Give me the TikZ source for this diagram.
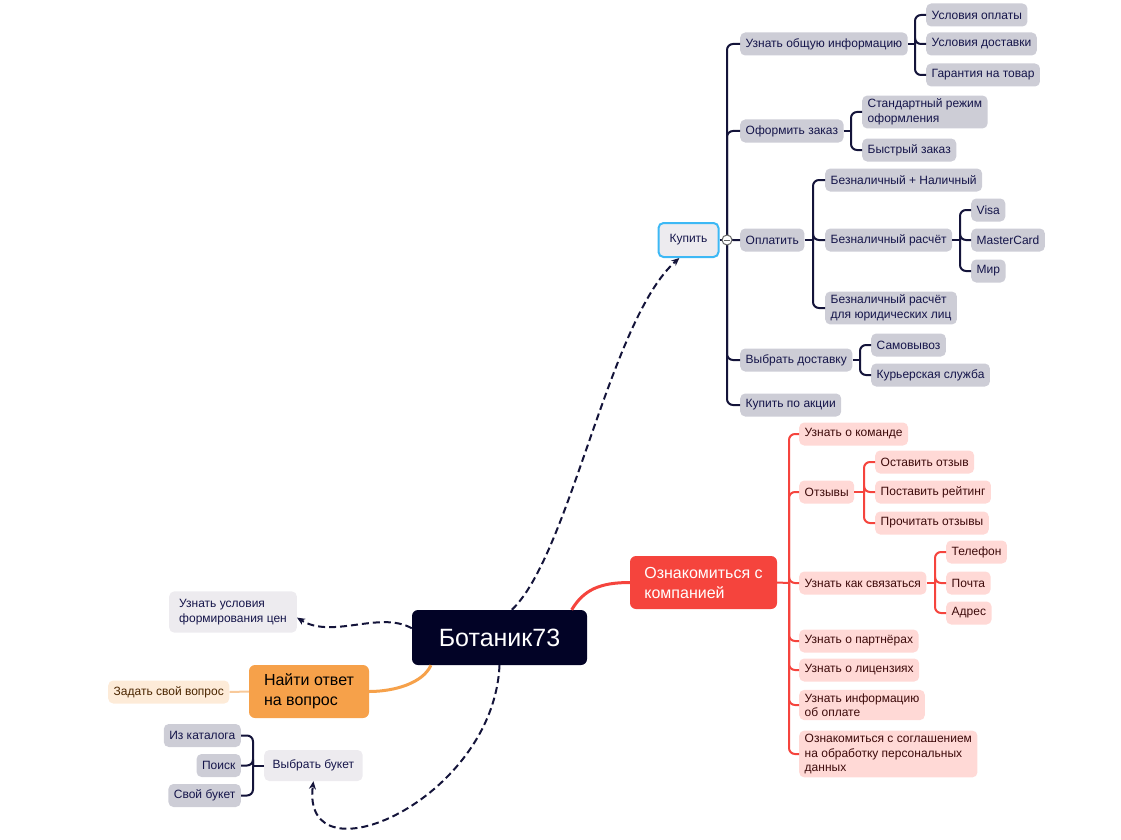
\documentclass[tikz,border=0pt]{standalone}
\usepackage{fontspec}
\setmainfont{Liberation Sans}
\usetikzlibrary{arrows.meta,positioning}
\definecolor{rootfill}{HTML}{020326}
\definecolor{mainred}{HTML}{F5443D}
\definecolor{mainorange}{HTML}{F6A14A}
\definecolor{askfill}{HTML}{FDEBD8}
\definecolor{asktext}{HTML}{4A2500}
\definecolor{asklink}{HTML}{F8C99A}
\definecolor{grayfill}{HTML}{CDCDD6}
\definecolor{lightfill}{HTML}{EDEBEF}
\definecolor{pinkfill}{HTML}{FFD9D6}
\definecolor{redtext}{HTML}{3D0A0A}
\definecolor{navytext}{HTML}{15154A}
\definecolor{linenavy}{HTML}{14143A}
\definecolor{buyborder}{HTML}{3DB8F5}
\begin{document}
\begin{tikzpicture}[x=1pt,y=-1pt,
	leaf/.style={anchor=west, align=left, rounded corners=5pt, inner xsep=5.5pt, inner ysep=3.5pt, minimum height=23pt, font=\fontsize{12}{14.5}\selectfont},
	grayleaf/.style={leaf, fill=grayfill, text=navytext},
	pinkleaf/.style={leaf, fill=pinkfill, text=redtext},
	lightleaf/.style={align=left, rounded corners=5pt, fill=lightfill, text=navytext, font=\fontsize{12}{14.5}\selectfont},
	mainbox/.style={align=left, rounded corners=6pt, minimum height=53pt, font=\fontsize{16}{20}\selectfont},
	branch/.style={line width=2pt, draw=linenavy, rounded corners=6pt},
	redbranch/.style={line width=2pt, draw=mainred, rounded corners=6pt},
	link/.style={draw=linenavy, line width=2pt, dash pattern=on 7pt off 4pt, -{Stealth[length=8pt,width=7pt]}}]
	\useasboundingbox (0,0) rectangle (1121,840);
	
	% centre
	\node[rounded corners=6pt, fill=rootfill, text=white, minimum width=175pt, minimum height=55pt, font=\fontsize{25}{30}\selectfont] (root) at (499.5,637.5) {Ботаник73};
	\node[mainbox, fill=mainred, text=white, minimum width=147pt] (about) at (703.5,582.5) {Ознакомиться с\\компанией};
	\node[mainbox, fill=mainorange, text=black, minimum width=120pt] (answer) at (309,691.5) {Найти ответ\\на вопрос};
	\node[leaf, fill=askfill, text=asktext] (ask) at (108,692) {Задать свой вопрос};
	\node[lightleaf, anchor=west, inner xsep=10pt, inner ysep=8pt] (prices) at (169,612) {Узнать условия\\формирования цен};
	\node[lightleaf, anchor=west, inner xsep=8.5pt, minimum height=31pt] (bouquet) at (264,765.5) {Выбрать букет};
	\node[lightleaf, draw=buyborder, line width=2pt, minimum width=60pt, minimum height=34pt] (buy) at (688.5,240) {Купить};
	
	\draw[line width=3pt, mainred] (root.21) .. controls +(12,-20) and +(-30,0) .. (about.west);
	\draw[line width=3pt, mainorange] (root.-158) .. controls +(-8,18) and +(25,0) .. (answer.east);
	\draw[line width=2pt, asklink] (answer.west) -- (ask.east);
	
	\draw[link] (root.66) .. controls +(58,-55) and +(-70,62) .. (buy.-117);
	\draw[link] (root.174) .. controls +(-32,-18) and +(35,22) .. (prices.-5);
	\draw[link] (root.south) .. controls +(-6,135) and +(-13,103) .. (bouquet.south);
	
	% Выбрать букет
	\node[grayleaf, anchor=east] (catalog) at (241,735.5) {Из каталога};
	\node[grayleaf, anchor=east] (search) at (241,765.5) {Поиск};
	\node[grayleaf, anchor=east] (own) at (241,795.5) {Свой букет};
	\coordinate (bouquetj) at (253,765.5);
	\draw[branch] (bouquet.west) -- (bouquetj);
	\foreach \n in {catalog,search,own}
		\draw[branch] (bouquetj) |- (\n.east);
	
	% Купить
	\node[grayleaf] (info) at (740,44) {Узнать общую информацию};
	\node[grayleaf] (payterms) at (926,15) {Условия оплаты};
	\node[grayleaf] (delterms) at (926,44) {Условия доставки};
	\node[grayleaf] (warranty) at (926,75) {Гарантия на товар};
	\node[grayleaf] (order) at (740,131) {Оформить заказ};
	\node[grayleaf] (standard) at (862,112) {Стандартный режим\\оформления};
	\node[grayleaf] (quick) at (862,150) {Быстрый заказ};
	\node[grayleaf] (pay) at (740,240) {Оплатить};
	\node[grayleaf] (mixed) at (825,180) {Безналичный + Наличный};
	\node[grayleaf] (cashless) at (825,240) {Безналичный расчёт};
	\node[grayleaf] (legal) at (825,308) {Безналичный расчёт\\для юридических лиц};
	\node[grayleaf] (visa) at (971,210) {Visa};
	\node[grayleaf] (mc) at (971,240) {MasterCard};
	\node[grayleaf] (mir) at (971,271) {Мир};
	\node[grayleaf] (delivery) at (740,360) {Выбрать доставку};
	\node[grayleaf] (pickup) at (871,345) {Самовывоз};
	\node[grayleaf] (courier) at (871,375) {Курьерская служба};
	\node[grayleaf] (promo) at (740,405) {Купить по акции};
	
	\coordinate (buyj) at (727,240);
	\coordinate (infoj) at (915,44);
	\coordinate (orderj) at (851,131);
	\coordinate (payj) at (813,240);
	\coordinate (cashlessj) at (960,240);
	\coordinate (deliveryj) at (860,360);
	
	\draw[branch] (buy.east) -- (buyj);
	\foreach \n in {info,order,pay,delivery,promo}
		\draw[branch] (buyj) |- (\n.west);
	\draw[branch] (info.east) -- (infoj);
	\foreach \n in {payterms,delterms,warranty}
		\draw[branch] (infoj) |- (\n.west);
	\draw[branch] (order.east) -- (orderj);
	\foreach \n in {standard,quick}
		\draw[branch] (orderj) |- (\n.west);
	\draw[branch] (pay.east) -- (payj);
	\foreach \n in {mixed,cashless,legal}
		\draw[branch] (payj) |- (\n.west);
	\draw[branch] (cashless.east) -- (cashlessj);
	\foreach \n in {visa,mc,mir}
		\draw[branch] (cashlessj) |- (\n.west);
	\draw[branch] (delivery.east) -- (deliveryj);
	\foreach \n in {pickup,courier}
		\draw[branch] (deliveryj) |- (\n.west);
	\node[circle, draw=gray!80!black, fill=white, line width=1pt, minimum size=10pt, inner sep=0pt] (fold) at (buyj) {};
	\draw[line width=1pt, gray!80!black] ([xshift=-3pt]fold.center) -- ([xshift=3pt]fold.center);
	
	% Ознакомиться с компанией
	\node[pinkleaf] (team) at (799,434) {Узнать о команде};
	\node[pinkleaf] (reviews) at (799,492) {Отзывы};
	\node[pinkleaf] (leave) at (875,462) {Оставить отзыв};
	\node[pinkleaf] (rate) at (875,492) {Поставить рейтинг};
	\node[pinkleaf] (read) at (875,523) {Прочитать отзывы};
	\node[pinkleaf] (contact) at (799,583) {Узнать как связаться};
	\node[pinkleaf] (phone) at (946,552) {Телефон};
	\node[pinkleaf] (mail) at (946,583) {Почта};
	\node[pinkleaf] (addr) at (946,613) {Адрес};
	\node[pinkleaf] (partners) at (799,641) {Узнать о партнёрах};
	\node[pinkleaf] (licences) at (799,670) {Узнать о лицензиях};
	\node[pinkleaf] (payinfo) at (799,705) {Узнать информацию\\об оплате};
	\node[pinkleaf] (consent) at (799,754) {Ознакомиться с соглашением\\на обработку персональных\\данных};
	
	\coordinate (aboutj) at (789,583);
	\coordinate (reviewsj) at (864,492);
	\coordinate (contactj) at (935,583);
	
	\draw[redbranch] (about.east) -- (aboutj);
	\foreach \n in {team,reviews,contact,partners,licences,payinfo,consent}
		\draw[redbranch] (aboutj) |- (\n.west);
	\draw[redbranch] (reviews.east) -- (reviewsj);
	\foreach \n in {leave,rate,read}
		\draw[redbranch] (reviewsj) |- (\n.west);
	\draw[redbranch] (contact.east) -- (contactj);
	\foreach \n in {phone,mail,addr}
		\draw[redbranch] (contactj) |- (\n.west);
\end{tikzpicture}
\end{document}
